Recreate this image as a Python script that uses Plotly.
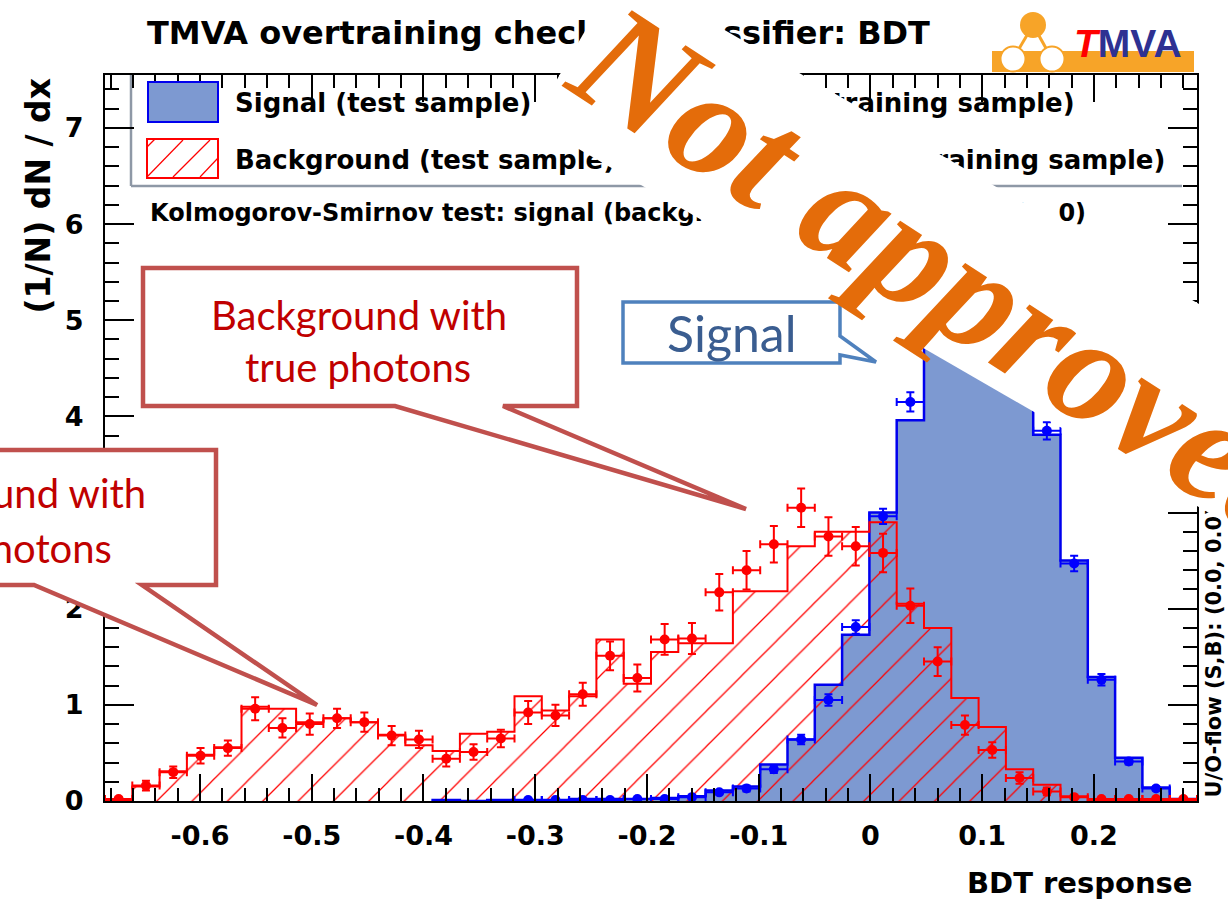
import numpy as np
import plotly.graph_objects as go

# ---------------- data ----------------
X_MIN, X_MAX, N_BINS = -0.685, 0.2922, 40
Y_MAX = 7.55

sig_test = [0, 0, 0, 0, 0, 0, 0, 0, 0, 0, 0, 0,
            0.01, 0.0, 0.01, 0.01, 0.01, 0.02, 0.02, 0.02, 0.03, 0.05,
            0.11, 0.15, 0.38, 0.64, 1.21, 1.73, 3.00, 3.96, 5.00, 5.70,
            5.60, 5.10, 3.81, 2.50, 1.29, 0.45, 0.14, 0.02]
bkg_test = [0.01, 0.15, 0.31, 0.48, 0.56, 0.98, 0.96, 0.82, 0.86, 0.82,
            0.69, 0.58, 0.52, 0.70, 0.72, 1.09, 0.94, 1.09, 1.68, 1.22,
            1.55, 1.64, 1.64, 2.18, 2.18, 2.65, 2.80, 2.80, 2.90, 2.05,
            1.80, 1.07, 0.77, 0.33, 0.17, 0.05, 0.01, 0.01, 0.01, 0.01]
sig_train = [None] * 15 + [0.01, 0.01, 0.01, 0.01, 0.02, 0.02, 0.04,
             0.09, 0.13, 0.33, 0.64, 1.05, 1.81, 2.96, 4.15, 5.20, 5.60,
             5.40, 4.90, 3.85, 2.47, 1.26, 0.41, 0.13, None]
sig_train_err = [0] * 15 + [0.01, 0.01, 0.01, 0.01, 0.01, 0.01, 0.01,
                 0.02, 0.03, 0.04, 0.05, 0.06, 0.07, 0.08, 0.10, 0.11, 0.11,
                 0.11, 0.11, 0.09, 0.08, 0.06, 0.03, 0.02, 0]
bkg_train = [0.02, 0.16, 0.30, 0.47, 0.55, 0.96, 0.76, 0.80, 0.86, 0.82,
             0.68, 0.64, 0.44, 0.51, 0.65, 0.92, 0.89, 1.11, 1.51, 1.28,
             1.68, 1.69, 2.17, 2.40, 2.67, 3.05, 2.75, 2.65, 2.58, 2.03,
             1.45, 0.79, 0.53, 0.24, 0.10, 0.04, 0.02, 0.02, 0.02, 0.02]
bkg_train_err = [0.02, 0.05, 0.06, 0.08, 0.08, 0.12, 0.10, 0.11, 0.10, 0.10,
                 0.10, 0.09, 0.08, 0.08, 0.09, 0.12, 0.11, 0.12, 0.15, 0.14,
                 0.16, 0.16, 0.19, 0.20, 0.19, 0.20, 0.20, 0.20, 0.20, 0.18,
                 0.15, 0.10, 0.08, 0.06, 0.04, 0.02, 0.01, 0.01, 0.01, 0.01]

x_tick_vals = [-0.6, -0.5, -0.4, -0.3, -0.2, -0.1, 0.0, 0.1, 0.2]
x_tick_text = ["-0.6", "-0.5", "-0.4", "-0.3", "-0.2", "-0.1", "0", "0.1", "0.2"]
y_tick_vals = [0, 1, 2, 3, 4, 5, 6, 7]
y_tick_text = ["0", "1", "2", "3", "4", "5", "6", "7"]

# ---------------- geometry helpers ----------------
W, H = 1228, 901
PL, PR, PT, PB = 105, 1197, 75, 801


def px(x):
    return (x - PL) / (PR - PL)


def py(y):
    return (PB - y) / (PB - PT)


def path(points):
    return "M " + " L ".join(f"{px(a):.5f},{py(b):.5f}" for a, b in points) + " Z"


edges = np.linspace(X_MIN, X_MAX, N_BINS + 1)
centers = 0.5 * (edges[:-1] + edges[1:])
bw = edges[1] - edges[0]


def step_xy(vals):
    nz = [i for i, v in enumerate(vals) if v and v > 0]
    i0, i1 = nz[0], nz[-1]
    xs, ys = [edges[i0]], [0]
    for i in range(i0, i1 + 1):
        xs.append(edges[i])
        ys.append(vals[i])
    xs += [edges[i1 + 1], edges[i1 + 1]]
    ys += [vals[i1], 0]
    return xs, ys


SIG_FILL, SIG_LINE = "#7d99d1", "#0000ee"
BKG = "#ff0000"
ROOTFONT = "DejaVu Sans"

fig = go.Figure()
fig.add_trace(go.Bar(x=centers, y=sig_test, width=bw,
                     marker=dict(color=SIG_FILL, line=dict(width=0)),
                     showlegend=False, hoverinfo="skip"))
fig.add_trace(go.Bar(x=centers, y=bkg_test, width=bw,
                     marker=dict(color="rgba(0,0,0,0)", line=dict(width=0),
                                 pattern=dict(shape="/", fgcolor=BKG, fgopacity=1,
                                              bgcolor="rgba(0,0,0,0)",
                                              size=25, solidity=0.05,
                                              fillmode="overlay")),
                     showlegend=False, hoverinfo="skip"))
sx, sy = step_xy(sig_test)
fig.add_trace(go.Scatter(x=sx, y=sy, mode="lines", line=dict(color=SIG_LINE, width=2.5, shape="hv"),
                         showlegend=False, hoverinfo="skip"))
bx, by = step_xy(bkg_test)
fig.add_trace(go.Scatter(x=bx, y=by, mode="lines", line=dict(color=BKG, width=2, shape="hv"),
                         showlegend=False, hoverinfo="skip"))
fig.add_trace(go.Scatter(x=centers, y=sig_train, mode="markers",
                         marker=dict(color="#0000ff", size=10),
                         error_y=dict(type="data", array=sig_train_err, color="#0000ff", thickness=2, width=4),
                         error_x=dict(type="constant", value=bw / 2, color="#0000ff", thickness=2, width=4),
                         showlegend=False, hoverinfo="skip"))
fig.add_trace(go.Scatter(x=centers, y=bkg_train, mode="markers",
                         marker=dict(color=BKG, size=10),
                         error_y=dict(type="data", array=bkg_train_err, color=BKG, thickness=2, width=4),
                         error_x=dict(type="constant", value=bw / 2, color=BKG, thickness=2, width=4),
                         showlegend=False, hoverinfo="skip"))

tickfont = dict(family=ROOTFONT, size=27, color="black", weight="bold")
fig.update_layout(
    width=W, height=H, autosize=False,
    margin=dict(l=PL, r=W - PR, t=PT, b=H - PB, pad=0),
    paper_bgcolor="white", plot_bgcolor="white",
    barmode="overlay", bargap=0,
    xaxis=dict(range=[X_MIN, X_MAX], tickvals=x_tick_vals, ticktext=x_tick_text,
               ticks="inside", ticklen=27, tickwidth=2, tickcolor="black",
               minor=dict(ticks="inside", ticklen=13, tickwidth=2, dtick=0.02, tick0=0, tickcolor="black"),
               showline=True, linewidth=2, linecolor="black", mirror="allticks",
               showgrid=False, zeroline=False, tickfont=tickfont, ticklabelstandoff=10,
               automargin=False),
    yaxis=dict(range=[0, Y_MAX], tickvals=y_tick_vals, ticktext=y_tick_text,
               ticks="inside", ticklen=29, tickwidth=2, tickcolor="black",
               minor=dict(ticks="inside", ticklen=14, tickwidth=2, dtick=0.2, tick0=0, tickcolor="black"),
               showline=True, linewidth=2, linecolor="black", mirror="allticks",
               showgrid=False, zeroline=False, tickfont=tickfont, ticklabelstandoff=14,
               automargin=False),
)

shapes = []
# ROOT legend box (left and bottom border only visible)
GREY = "#8e98a6"
shapes.append(dict(type="rect", xref="paper", yref="paper", layer="below",
                   x0=px(131), x1=px(1182), y0=py(186), y1=py(75),
                   fillcolor="white", line=dict(width=0)))
shapes.append(dict(type="line", xref="paper", yref="paper", layer="below",
                   x0=px(131), x1=px(131), y0=py(75), y1=py(186), line=dict(color=GREY, width=2.5)))
shapes.append(dict(type="line", xref="paper", yref="paper", layer="below",
                   x0=px(131), x1=px(1182), y0=py(186), y1=py(186), line=dict(color=GREY, width=2.5)))
# legend symbols
shapes.append(dict(type="rect", xref="paper", yref="paper", layer="above",
                   x0=px(148), x1=px(218), y0=py(122), y1=py(82),
                   fillcolor=SIG_FILL, line=dict(color=SIG_LINE, width=2)))
shapes.append(dict(type="rect", xref="paper", yref="paper", layer="above",
                   x0=px(147), x1=px(218), y0=py(178), y1=py(139),
                   fillcolor="white", line=dict(color=BKG, width=2)))
for (a, b, c, d) in [(147, 177, 183, 140), (173, 177, 210, 140), (200, 177, 218, 158), (147, 147, 155, 139)]:
    shapes.append(dict(type="line", xref="paper", yref="paper", layer="above",
                       x0=px(a), y0=py(b), x1=px(c), y1=py(d), line=dict(color=BKG, width=1.2)))

# callouts
RED_BORDER, RED_TEXT = "#c0504d", "#c00000"
BLUE_BORDER, BLUE_TEXT = "#4f81bd", "#3a5d90"
shapes.append(dict(type="path", xref="paper", yref="paper", layer="above",
                   path=path([(143, 268), (577, 268), (577, 406), (503, 406), (746, 509),
                              (395, 406), (143, 406)]),
                   fillcolor="white", line=dict(color=RED_BORDER, width=4.5)))
shapes.append(dict(type="path", xref="paper", yref="paper", layer="above",
                   path=path([(-220, 450), (216, 450), (216, 585), (142, 585), (317, 705),
                              (34, 585), (-220, 585)]),
                   fillcolor="white", line=dict(color=RED_BORDER, width=4.5)))
shapes.append(dict(type="path", xref="paper", yref="paper", layer="above",
                   path=path([(623, 302), (840, 302), (840, 336), (876, 362), (840, 355),
                              (840, 363), (623, 363)]),
                   fillcolor="white", line=dict(color=BLUE_BORDER, width=3.5)))

# TMVA logo
ORANGE = "#f7a428"
shapes.append(dict(type="rect", xref="paper", yref="paper", layer="above",
                   x0=px(992), x1=px(1194), y0=py(72), y1=py(51), fillcolor=ORANGE, line=dict(width=0)))
shapes.append(dict(type="line", xref="paper", yref="paper", layer="above",
                   x0=px(1033), y0=py(25), x1=px(1013), y1=py(59), line=dict(color=ORANGE, width=3)))
shapes.append(dict(type="line", xref="paper", yref="paper", layer="above",
                   x0=px(1033), y0=py(25), x1=px(1052), y1=py(59), line=dict(color=ORANGE, width=3)))
shapes.append(dict(type="circle", xref="paper", yref="paper", layer="above",
                   x0=px(1020), x1=px(1046), y0=py(38), y1=py(12), fillcolor=ORANGE, line=dict(width=0)))
for cx in (1013, 1052):
    shapes.append(dict(type="circle", xref="paper", yref="paper", layer="above",
                       x0=px(cx - 12.5), x1=px(cx + 12.5), y0=py(71.5), y1=py(46.5),
                       fillcolor="white", line=dict(color=ORANGE, width=2)))

fig.update_layout(shapes=shapes)


def ann(text, x, y, size, xanchor="center", yanchor="middle", color="black", family=ROOTFONT,
        weight="bold", angle=0, **kw):
    return dict(text=text, x=px(x), y=py(y), xref="paper", yref="paper",
                xanchor=xanchor, yanchor=yanchor, showarrow=False, textangle=angle,
                font=dict(family=family, size=size, color=color, weight=weight), **kw)


annotations = [
    ann("TMVA overtraining check for classifier: BDT", 145, 33, 32, xanchor="left"),
    ann("Signal (test sample)", 233, 103, 26, xanchor="left"),
    ann("Background (test sample)", 233, 160, 26, xanchor="left"),
    ann("Signal (training sample)", 1077, 103, 26, xanchor="right"),
    ann("Background (training sample)", 1167, 160, 26, xanchor="right"),
    ann("Kolmogorov-Smirnov test: signal (background) probability =", 148, 213, 24, xanchor="left"),
    ann("(\u00a0\u00a0\u00a0\u00a00)", 1088, 213, 24, xanchor="right"),
    ann("(1/N) dN / dx", 38, 77, 33, yanchor="top", angle=-90),
    ann("BDT response", 1195, 883, 29, xanchor="right"),
    ann("U/O-flow (S,B): (0.0, 0.0)% / (0.0, 0.0)%", 1213, 800, 21, yanchor="bottom", angle=-90),
    ann("Background with", 359, 315, 40, color=RED_TEXT, family="Lato", weight="normal"),
    ann("true photons", 358, 367, 40, color=RED_TEXT, family="Lato", weight="normal"),
    ann("Background with", -2, 493, 40, color=RED_TEXT, family="Lato", weight="normal"),
    ann("fake photons", -2, 548, 40, color=RED_TEXT, family="Lato", weight="normal"),
    ann("Signal", 731, 333, 50, color=BLUE_TEXT, family="Lato", weight="normal"),
    ann("<span style='color:#ff0000'><i>T</i></span>MVA", 1128, 43, 39, color="#2e3192",
        family="Liberation Sans"),
    # white rotated text-box background of the watermark
    dict(text=".", x=px(966), y=py(271), xref="paper", yref="paper", xanchor="center", yanchor="middle",
         showarrow=False, textangle=30, width=900, height=176, bgcolor="white", borderpad=0, borderwidth=0,
         font=dict(size=10, color="white")),
    dict(text="Not approved", x=px(950), y=py(276), xref="paper", yref="paper", xanchor="center",
         yanchor="middle", showarrow=False, textangle=33,
         font=dict(family="Liberation Serif", size=155, color="#e46c0a", weight="bold", style="italic")),
]
fig.update_layout(annotations=annotations)

fig.write_html("out.html")
